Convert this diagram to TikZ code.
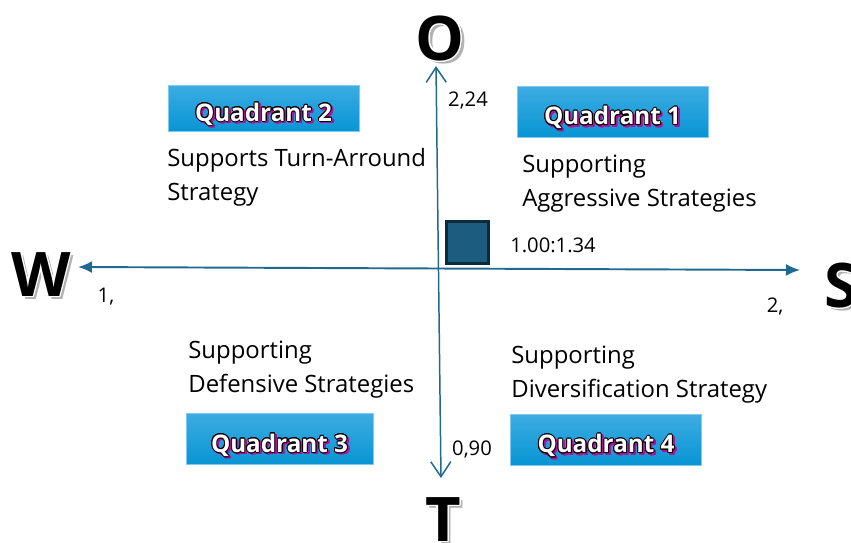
\documentclass[tikz,border=0pt]{standalone}
\usepackage{fontspec}
\setmainfont{Open Sans}
\usepackage{contour}
\usetikzlibrary{arrows.meta,positioning,calc}
\definecolor{axisblue}{HTML}{1F6A8E}
\definecolor{sqfill}{HTML}{1C5C7E}
\definecolor{sqedge}{HTML}{0B2A3A}
\definecolor{quadtop}{HTML}{3DACE2}
\definecolor{quadbot}{HTML}{0795D4}
\definecolor{quadedge}{HTML}{7FCBEF}
\definecolor{shadowpink}{HTML}{B0109A}
\newcommand{\quadlabel}[1]{{\contourlength{0.5pt}\makebox[0pt][l]{\hspace{1pt}\raisebox{-1pt}{\contour{shadowpink}{\textcolor{shadowpink}{#1}}}}\contour{black}{\textcolor{white}{#1}}}}
\newcommand{\shadowletter}[1]{{\contourlength{0.8pt}\makebox[0pt][l]{\hspace{2pt}\raisebox{-2pt}{\textcolor{gray!60}{#1}}}\contour{white}{#1}}}
\tikzset{
  quadbox/.style={draw=quadedge,top color=quadtop,bottom color=quadbot,minimum width=3.82cm,minimum height=1.02cm,inner sep=0pt,text height=15pt,text depth=0pt,font=\fontsize{13.8}{15}\bfseries\selectfont},
  quadtext/.style={anchor=north west,align=left,inner sep=0pt,font=\fontsize{13.6}{19.3}\selectfont},
  axislab/.style={inner sep=0pt,font=\fontsize{11.5}{13}\selectfont},
  bigletter/.style={inner sep=0pt,font=\fontsize{35}{40}\bfseries\selectfont},
  axiswe/.style={axisblue,line width=1.1pt,{Latex[length=2.8mm,width=2.4mm]}-{Latex[length=2.8mm,width=2.4mm]}},
  axisot/.style={axisblue,line width=0.85pt,{Straight Barb[length=3mm,width=4mm]}-{Straight Barb[length=3mm,width=4mm]}}
}

\begin{document}
\begin{tikzpicture}[x=0.02cm,y=-0.02cm]
  \useasboundingbox (0,0) rectangle (851,542);
  % axes
  \coordinate (wend) at (78,267);
  \coordinate (send) at (800,270);
  \coordinate (oend) at (436,66);
  \coordinate (tend) at (441,478);
  \draw[axiswe] (wend) -- (send);
  \draw[axisot] (oend) -- (tend);
  % big letters
  \node[bigletter] (lo) at (440,40) {\shadowletter{O}};
  \node[bigletter] (lw) at (41,276) {\shadowletter{W}};
  \node[bigletter] (ls) at (841,287) {\shadowletter{S}};
  \node[bigletter] (lt) at (443,521) {\shadowletter{T}};
  % axis values
  \node[axislab] (vo) at (468,100) {2,24};
  \node[axislab] (vt) at (472,449) {0,90};
  \node[axislab] (vw) at (106,297) {1,};
  \node[axislab] (vs) at (775,306) {2,};
  % position
  \node[draw=sqedge,fill=sqfill,line width=1.3pt,minimum size=0.84cm,inner sep=0pt] (sq) at (467.5,242.5) {};
  \node[axislab] (ratio) at (553,245) {1.00:1.34};
  % quadrants
  \node[quadbox,minimum height=0.92cm] (q2) at (263.5,108) {\quadlabel{Quadrant 2}};
  \node[quadbox] (q1) at (612.5,111.5) {\quadlabel{Quadrant 1}};
  \node[quadbox,minimum width=3.74cm] (q3) at (279.5,439) {\quadlabel{Quadrant 3}};
  \node[quadbox] (q4) at (606,439.5) {\quadlabel{Quadrant 4}};
  \node[quadtext] (t2) at (167,148) {Supports Turn-Arround\\Strategy};
  \node[quadtext] (t1) at (522,155) {Supporting\\Aggressive Strategies};
  \node[quadtext] (t3) at (188,341) {Supporting\\Defensive Strategies};
  \node[quadtext] (t4) at (511,346) {Supporting\\Diversification Strategy};
\end{tikzpicture}
\end{document}
